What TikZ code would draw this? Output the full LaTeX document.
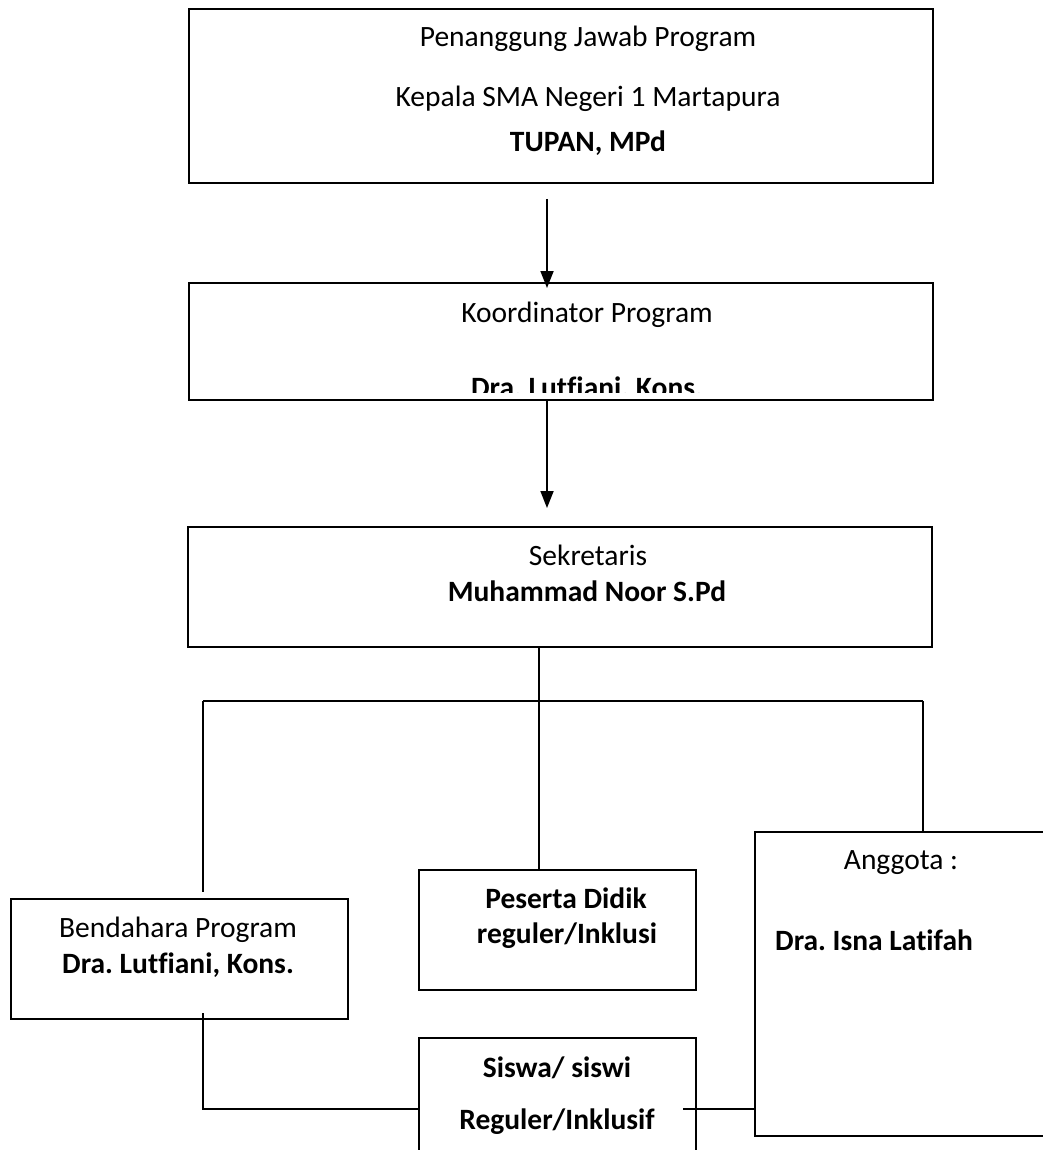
\documentclass[tikz,border=0pt]{standalone}
\usepackage{fontspec}
\setmainfont{Carlito}[Ligatures={NoCommon}]
\usetikzlibrary{arrows.meta,calc}
\frenchspacing
\begin{document}
\frenchspacing
\begin{tikzpicture}[x=1pt,y=-1pt,
  box/.style={draw=black,line width=2.4pt,rectangle,inner sep=0pt,anchor=north west},
  txt/.style={anchor=base,inner sep=0pt,font=\fontsize{29.5}{35}\selectfont},
  btxt/.style={txt,font=\fontsize{29.5}{35}\selectfont\bfseries},
  conn/.style={draw=black,line width=1.8pt},
  arr/.style={conn,-{Triangle[length=17pt,width=13pt]}}]
\useasboundingbox (0,0) rectangle (1043,1150);
% boxes
\node[box,minimum width=744pt,minimum height=174pt] (b1) at (188,8) {};
\node[box,minimum width=744pt,minimum height=117pt] (b2) at (188,282) {};
\node[box,minimum width=744pt,minimum height=120pt] (b3) at (187,526) {};
\node[box,minimum width=337pt,minimum height=120pt] (bend) at (10,898) {};
\node[box,minimum width=277pt,minimum height=120pt] (pes) at (418,869) {};
\node[box,minimum width=316pt,minimum height=304pt] (ang) at (754,831) {};
\node[box,minimum width=277pt,minimum height=143pt] (sis) at (418,1037) {};
% texts
\node[txt] (t1a) at (588,47) {Penanggung Jawab Program};
\node[txt] (t1b) at (588,107) {Kepala SMA Negeri 1 Martapura};
\node[btxt] (t1c) at (588,152) {TUPAN, MPd};
\node[txt] (t2a) at (587,322) {Koordinator Program};
\begin{scope}
\clip (190,284) rectangle (930,392);
\node[btxt] (t2b) at (587,397) {Dra. Lutfiani. Kons.};
\end{scope}
\node[txt] (t3a) at (588,565) {Sekretaris};
\node[btxt] (t3b) at (587,601) {Muhammad Noor S.Pd};
\node[txt] (t4a) at (178,937) {Bendahara Program};
\node[btxt] (t4b) at (178,973) {Dra. Lutfiani, Kons.};
\node[btxt] (t5a) at (566,908) {Peserta Didik};
\node[btxt] (t5b) at (567,943) {reguler/Inklusi};
\node[txt] (t6a) at (901,869) {Anggota :};
\node[btxt,anchor=base west] (t6b) at (775,950) {Dra. Isna Latifah};
\node[btxt] (t7a) at (557,1077) {Siswa/ siswi};
\node[btxt] (t7b) at (557,1129) {Reguler/Inklusif};
% connector points
\coordinate (a1s) at (547,199);
\coordinate (a1e) at (547,288);
\coordinate (a2s) at (547,399);
\coordinate (a2e) at (547,508);
\coordinate (jm) at (539,701);
\coordinate (jl) at (203,701);
\coordinate (jr) at (923,701);
\coordinate (jle) at (203,892);
\coordinate (bl) at (203,1013);
\coordinate (bc) at (203,1109);
\coordinate (sr) at (683,1109);
% connectors
\draw[arr] (a1s) -- (a1e);
\draw[arr] (a2s) -- (a2e);
\draw[conn] (jm |- b3.south) -- (jm |- pes.north);
\draw[conn] (jl) -- (jr);
\draw[conn] (jl) -- (jle);
\draw[conn] (jr) -- (jr |- ang.north);
\draw[conn] (bl) -- (bc) -- (bc -| sis.west);
\draw[conn] (sr) -- (sr -| ang.west);
\end{tikzpicture}
\end{document}
